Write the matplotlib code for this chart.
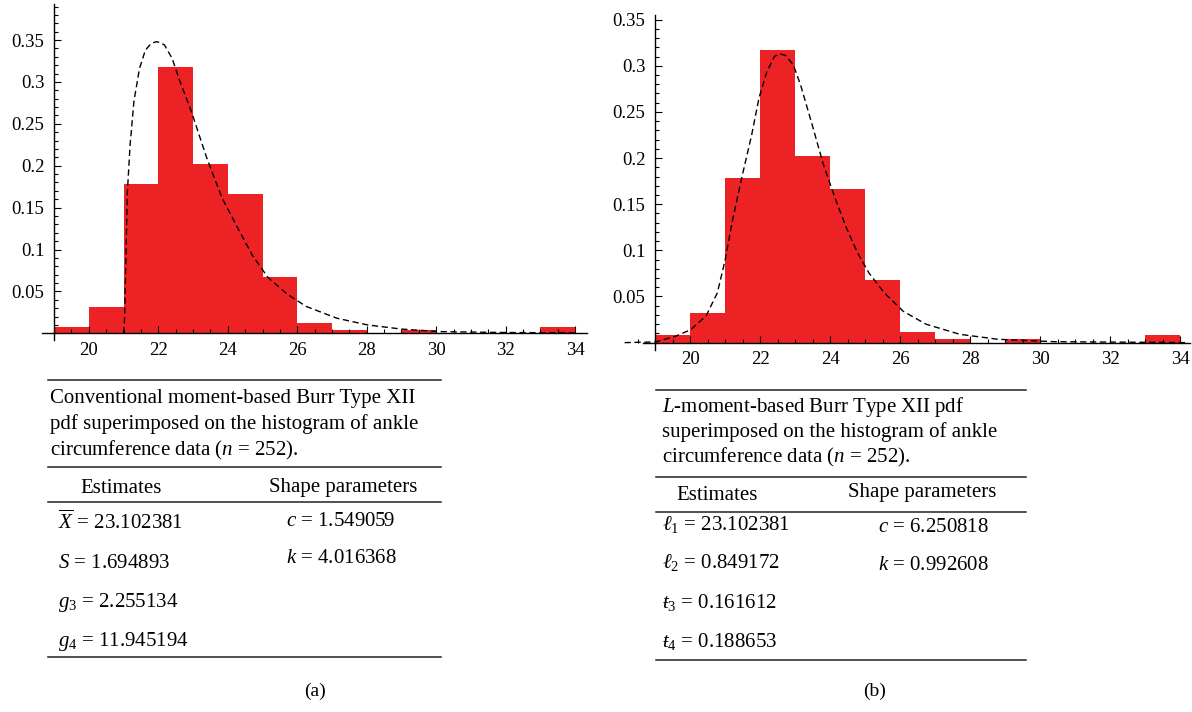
import matplotlib
matplotlib.use('Agg')
import matplotlib.pyplot as plt
from matplotlib.lines import Line2D
from matplotlib.ticker import MultipleLocator, FixedLocator

# Histogram of ankle circumference (density), bins of width 1 starting at 19
bin_left = [19, 20, 21, 22, 23, 24, 25, 26, 27, 28, 29, 30, 31, 32, 33]
density = [0.0079, 0.0317, 0.1786, 0.3175, 0.2024, 0.1667, 0.0675, 0.0119,
           0.0040, 0.0, 0.0040, 0.0, 0.0, 0.0, 0.0079]

# Dashed pdf curves
curve_a_x = [21.0, 21.03, 21.11, 21.19, 21.30, 21.46, 21.63, 21.80, 21.94, 22.06, 22.18,
             22.40, 22.62, 22.95, 23.39, 23.83, 24.27, 24.71, 25.15, 25.70, 26.26,
             27.14, 28.02, 29.01, 30.11, 31.76, 33.97]
curve_a_y = [0.0, 0.016, 0.168, 0.225, 0.277, 0.316, 0.338, 0.346, 0.348, 0.347, 0.344,
             0.328, 0.301, 0.265, 0.210, 0.162, 0.127, 0.093, 0.067, 0.047, 0.032,
             0.018, 0.010, 0.005, 0.002, 0.001, 0.0005]

curve_b_x = [18.13, 19.02, 19.59, 20.02, 20.46, 20.78, 21.00, 21.21, 21.48, 21.76, 21.97,
             22.19, 22.41, 22.57, 22.73, 22.95, 23.16, 23.49, 23.81, 24.14, 24.46,
             24.79, 25.12, 25.55, 26.09, 26.74, 27.71, 28.80, 30.42, 34.22]
curve_b_y = [0.0, 0.0007, 0.007, 0.014, 0.029, 0.054, 0.089, 0.132, 0.179, 0.225, 0.265,
             0.293, 0.310, 0.313, 0.311, 0.301, 0.279, 0.236, 0.193, 0.157, 0.125,
             0.097, 0.075, 0.054, 0.034, 0.020, 0.009, 0.0036, 0.001, 0.0]

ytick_vals = [0.05, 0.1, 0.15, 0.2, 0.25, 0.3, 0.35]
ytick_text = ['0.05', '0.1', '0.15', '0.2', '0.25', '0.3', '0.35']
xtick_vals = [20, 22, 24, 26, 28, 30, 32, 34]

caption_a = ['Conventional moment-based Burr Type XII',
             'pdf superimposed on the histogram of ankle',
             r'circumference data ($n$ = 252).']
estimates_a = [r'$\overline{X}$ = 23.102381', r'$S$ = 1.694893',
               r'$g_3$ = 2.255134', r'$g_4$ = 11.945194']
shape_a = [r'$c$ = 1.549059', r'$k$ = 4.016368']

caption_b = [r'$L$-moment-based Burr Type XII pdf',
             'superimposed on the histogram of ankle',
             r'circumference data ($n$ = 252).']
estimates_b = [r'$\ell_1$ = 23.102381', r'$\ell_2$ = 0.849172',
               r'$ŧ_3$ = 0.161612', r'$ŧ_4$ = 0.188653']
shape_b = [r'$c$ = 6.250818', r'$k$ = 0.992608']

plt.rcParams['font.family'] = ['Liberation Serif', 'DejaVu Serif']
plt.rcParams['mathtext.fontset'] = 'custom'
plt.rcParams['mathtext.rm'] = 'Liberation Serif'
plt.rcParams['mathtext.it'] = 'Liberation Serif:italic'
plt.rcParams['mathtext.bf'] = 'Liberation Serif:bold'

W, H = 1192, 712
fig = plt.figure(figsize=(W / 100, H / 100), dpi=100)


def box(x0, y0, x1, y1):
    # pixel box (top-left origin) -> figure fraction rect
    return [x0 / W, 1 - y1 / H, (x1 - x0) / W, (y1 - y0) / H]


def fx(px):
    return px / W


def fy(py):
    return 1 - py / H


RED = '#ED2224'


def histogram_panel(rect, xlim, ylim, cx, cy, xspine):
    ax = fig.add_axes(rect)
    ax.bar(bin_left, density, width=1.0, align='edge', color=RED, linewidth=0)
    ax.plot(cx, cy, color='black', lw=1.0, dashes=(4.5, 2.6), clip_on=False)
    ax.set_xlim(*xlim)
    ax.set_ylim(*ylim)
    for s in ['top', 'right']:
        ax.spines[s].set_visible(False)
    ax.spines['left'].set_position(('data', 19))
    ax.spines['bottom'].set_position(('data', 0))
    ax.spines['bottom'].set_bounds(xspine, xlim[1])
    ax.spines['left'].set_bounds(ylim[0], ylim[1])
    ax.spines['left'].set_linewidth(1.0)
    ax.spines['bottom'].set_linewidth(1.0)
    ax.yaxis.set_major_locator(FixedLocator(ytick_vals))
    ax.set_yticklabels(ytick_text)
    ax.yaxis.set_minor_locator(MultipleLocator(0.01))
    ax.xaxis.set_major_locator(FixedLocator(xtick_vals))
    ax.xaxis.set_minor_locator(MultipleLocator(0.5))
    ax.tick_params(which='both', direction='in', labelsize=13.5, width=0.8)
    ax.tick_params(which='major', length=5)
    ax.tick_params(which='minor', length=3)
    ax.tick_params(axis='y', pad=7)
    ax.tick_params(axis='x', pad=6)
    ax.patch.set_alpha(0)
    return ax


histogram_panel(box(42.2, 4, 586.7, 340), (18.66, 34.33), (-0.008, 0.393),
                curve_a_x, curve_a_y, 18.66)
histogram_panel(box(626, 15, 1189.8, 350), (18.17, 34.28), (-0.008, 0.355),
                curve_b_x, curve_b_y, 18.66)


def table(x0, x1, lines_y, cap_x, cap_y, cap, head_xy, est_x, est_y, est,
          shp_x, shp_y, shp):
    for y in lines_y:
        fig.add_artist(Line2D([fx(x0), fx(x1)], [fy(y), fy(y)],
                              color='#222222', lw=1.1))
    for t, y in zip(cap, cap_y):
        fig.text(fx(cap_x), fy(y), t, fontsize=15, va='baseline', ha='left')
    for t, (x, y) in zip(['Estimates', 'Shape parameters'], head_xy):
        fig.text(fx(x), fy(y), t, fontsize=15, va='baseline', ha='center')
    for t, y in zip(est, est_y):
        fig.text(fx(est_x), fy(y), t, fontsize=15, va='baseline', ha='left')
    for t, y in zip(shp, shp_y):
        fig.text(fx(shp_x), fy(y), t, fontsize=15, va='baseline', ha='center')


table(48, 441, [380, 467, 502, 657], 50, [403, 429, 455], caption_a,
      [(121, 493), (343, 492)], 58, [529, 568, 607, 646], estimates_a,
      341, [526, 563], shape_a)
table(656, 1026, [390, 477, 512, 660], 662, [412, 437, 462], caption_b,
      [(717, 500), (922, 497)], 662, [530, 568, 608, 647], estimates_b,
      933, [532, 570], shape_b)

fig.text(fx(315), fy(696), '(a)', fontsize=14, ha='center', va='baseline')
fig.text(fx(875), fy(696), '(b)', fontsize=14, ha='center', va='baseline')

fig.savefig('out.png', dpi=100)
